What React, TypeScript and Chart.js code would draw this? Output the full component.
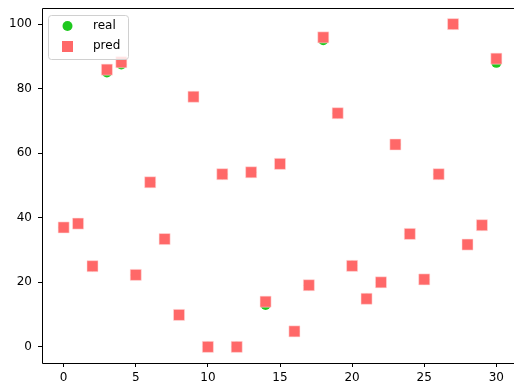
import React, { useEffect, useRef } from "react";
import { Chart, registerables } from "chart.js";

Chart.register(...registerables);

const xValues = [0,1,2,3,4,5,6,7,8,9,10,11,12,13,14,15,16,17,18,19,20,21,22,23,24,25,26,27,28,29,30];
const realValues = [37,38.2,25,85,87.5,22.3,51,33.4,9.9,77.5,0,53.5,0,54.1,13,56.7,4.8,19.1,95,72.4,25.1,14.9,20,62.7,35,20.9,53.5,100,31.7,37.7,88];
const predValues = [37,38.2,25,85.9,88.2,22.3,51,33.4,9.9,77.5,0,53.5,0,54.1,14,56.7,4.8,19.1,95.9,72.4,25.1,14.9,20,62.7,35,20.9,53.5,100,31.7,37.7,89.3];
const xTicks = [0,5,10,15,20,25,30];
const yTicks = [0,20,40,60,80,100];
const seriesNames = ["real", "pred"];

const GREEN = "#1ec81e";
const RED = "#ff6868";
const FONT = "'DejaVu Sans', sans-serif";

const framePlugin = {
  id: "frame",
  afterDraw(chart: any) {
    const { ctx, chartArea: a } = chart;
    const l = Math.round(a.left) + 0.5, t = Math.round(a.top) + 0.5;
    const r = Math.round(a.right) + 0.5, b = Math.round(a.bottom) + 0.5;
    ctx.save();
    ctx.strokeStyle = "#000";
    ctx.lineWidth = 1;
    ctx.beginPath();
    ctx.moveTo(r, t); ctx.lineTo(l, t); ctx.lineTo(l, b); ctx.lineTo(r, b); ctx.lineTo(r, t);
    ctx.stroke();
    // legend
    const lx = a.left + 6, ly = a.top + 7, lw = 80, lh = 44;
    ctx.fillStyle = "rgba(255,255,255,0.8)";
    ctx.strokeStyle = "#d0d0d0";
    ctx.beginPath();
    (ctx as any).roundRect(lx + 0.5, ly + 0.5, lw, lh, 3);
    ctx.fill();
    ctx.stroke();
    ctx.fillStyle = GREEN;
    ctx.beginPath();
    ctx.arc(lx + 19.5, ly + 11, 5, 0, Math.PI * 2);
    ctx.fill();
    ctx.fillStyle = RED;
    ctx.fillRect(lx + 14, ly + 26, 11, 11);
    ctx.fillStyle = "#000";
    ctx.font = "12px " + FONT;
    ctx.textBaseline = "middle";
    ctx.textAlign = "left";
    ctx.fillText(seriesNames[0], lx + 45, ly + 11);
    ctx.fillText(seriesNames[1], lx + 45, ly + 31);
    ctx.restore();
  },
};

export default function App() {
  const ref = useRef<HTMLCanvasElement>(null);
  useEffect(() => {
    document.body.style.margin = "0";
    document.body.style.overflow = "hidden";
    const chart = new Chart(ref.current!, {
      type: "scatter",
      data: {
        datasets: [
          {
            label: seriesNames[0],
            data: xValues.map((x, i) => ({ x, y: realValues[i] })),
            backgroundColor: GREEN,
            borderColor: GREEN,
            pointStyle: "circle",
            pointRadius: 5,
            borderWidth: 0,
            order: 2,
          },
          {
            label: seriesNames[1],
            data: xValues.map((x, i) => ({ x, y: predValues[i] })),
            backgroundColor: RED,
            borderColor: "rgba(255,220,220,0.9)",
            borderWidth: 0.6,
            pointStyle: "rect",
            pointRadius: 7.8,
            order: 1,
          },
        ],
      },
      options: {
        animation: false,
        responsive: false,
        events: [],
        layout: { autoPadding: false, padding: { top: 8, right: 2, left: 0, bottom: 0 } },
        plugins: { legend: { display: false }, tooltip: { enabled: false } },
        scales: {
          x: {
            type: "linear",
            min: -1.5,
            max: 31.5,
            afterBuildTicks: (s: any) => { s.ticks = xTicks.map((v) => ({ value: v })); },
            afterFit: (s: any) => { s.height = 21; s.paddingLeft = 0; s.paddingRight = 0; },
            grid: { drawOnChartArea: false, tickLength: 4, color: "#000", tickColor: "#000" },
            border: { display: false },
            ticks: { color: "#000", font: { family: FONT, size: 12 }, padding: 4, maxRotation: 0 },
          },
          y: {
            type: "linear",
            min: -5,
            max: 105,
            afterBuildTicks: (s: any) => { s.ticks = yTicks.map((v) => ({ value: v })); },
            afterFit: (s: any) => { s.width = 42; s.paddingTop = 0; s.paddingBottom = 0; },
            grid: { drawOnChartArea: false, tickLength: 4, color: "#000", tickColor: "#000" },
            border: { display: false },
            ticks: { color: "#000", font: { family: FONT, size: 12 }, padding: 6 },
          },
        },
      },
      plugins: [framePlugin],
    });
    return () => chart.destroy();
  }, []);
  return (
    <div style={{ width: 514, height: 384, overflow: "hidden", position: "relative" }}>
      <canvas ref={ref} width={520} height={384} style={{ position: "absolute", left: 0, top: 0, display: "block" }} />
    </div>
  );
}
